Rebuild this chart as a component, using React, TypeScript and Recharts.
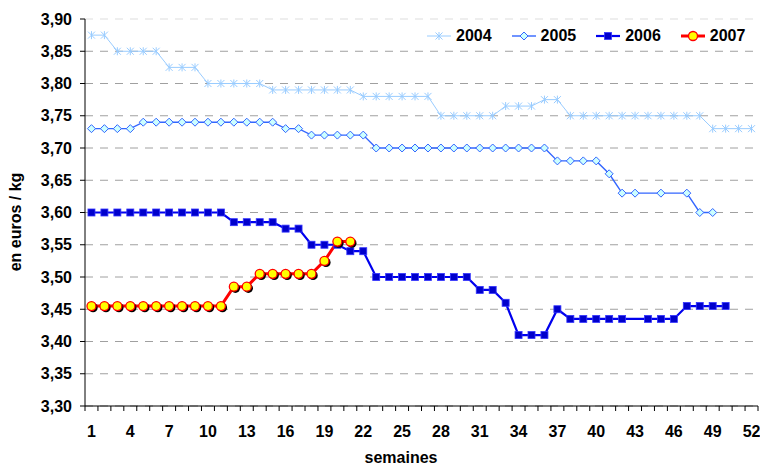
import { LineChart, Line, XAxis, YAxis, CartesianGrid, Legend, Label } from "recharts"

const weeks = [
  1, 2, 3, 4, 5, 6, 7, 8, 9, 10, 11, 12, 13, 14, 15, 16, 17, 18, 19, 20, 21, 22, 23, 24, 25, 26,
  27, 28, 29, 30, 31, 32, 33, 34, 35, 36, 37, 38, 39, 40, 41, 42, 43, 44, 45, 46, 47, 48, 49, 50, 51, 52,
]

const y2004 = [
  3.875, 3.875, 3.85, 3.85, 3.85, 3.85, 3.825, 3.825, 3.825, 3.8, 3.8, 3.8, 3.8, 3.8, 3.79, 3.79, 3.79,
  3.79, 3.79, 3.79, 3.79, 3.78, 3.78, 3.78, 3.78, 3.78, 3.78, 3.75, 3.75, 3.75, 3.75, 3.75, 3.765, 3.765,
  3.765, 3.775, 3.775, 3.75, 3.75, 3.75, 3.75, 3.75, 3.75, 3.75, 3.75, 3.75, 3.75, 3.75, 3.73, 3.73, 3.73, 3.73,
]

const y2005 = [
  3.73, 3.73, 3.73, 3.73, 3.74, 3.74, 3.74, 3.74, 3.74, 3.74, 3.74, 3.74, 3.74, 3.74, 3.74, 3.73, 3.73,
  3.72, 3.72, 3.72, 3.72, 3.72, 3.7, 3.7, 3.7, 3.7, 3.7, 3.7, 3.7, 3.7, 3.7, 3.7, 3.7, 3.7, 3.7, 3.7,
  3.68, 3.68, 3.68, 3.68, 3.66, 3.63, 3.63, null, 3.63, null, 3.63, 3.6, 3.6, null, null, null,
]

const y2006 = [
  3.6, 3.6, 3.6, 3.6, 3.6, 3.6, 3.6, 3.6, 3.6, 3.6, 3.6, 3.585, 3.585, 3.585, 3.585, 3.575, 3.575,
  3.55, 3.55, 3.55, 3.54, 3.54, 3.5, 3.5, 3.5, 3.5, 3.5, 3.5, 3.5, 3.5, 3.48, 3.48, 3.46, 3.41, 3.41,
  3.41, 3.45, 3.435, 3.435, 3.435, 3.435, 3.435, null, 3.435, 3.435, 3.435, 3.455, 3.455, 3.455, 3.455,
  null, null,
]

const y2007 = [
  3.455, 3.455, 3.455, 3.455, 3.455, 3.455, 3.455, 3.455, 3.455, 3.455, 3.455, 3.485, 3.485, 3.505,
  3.505, 3.505, 3.505, 3.505, 3.525, 3.555, 3.555,
]

const weekLabels = [1, 4, 7, 10, 13, 16, 19, 22, 25, 28, 31, 34, 37, 40, 43, 46, 49, 52]
const yTicks = [3.3, 3.35, 3.4, 3.45, 3.5, 3.55, 3.6, 3.65, 3.7, 3.75, 3.8, 3.85, 3.9]

const data = weeks.map((w, i) => ({
  week: w,
  y2004: y2004[i] ?? null,
  y2005: y2005[i] ?? null,
  y2006: y2006[i] ?? null,
  y2007: y2007[i] ?? null,
}))

// tick marks sit between weeks, labels sit on every third week
const boundaries = [0, ...weeks].map((w) => w + 0.5)
const allTicks = [...boundaries, ...weekLabels].sort((a, b) => a - b)

const font = "'Liberation Sans', Arial, sans-serif"
const fs = 16

function Star({ cx, cy, color }: any) {
  return (
    <g stroke={color} strokeWidth={1}>
      <line x1={cx - 3.5} y1={cy - 3.5} x2={cx + 3.5} y2={cy + 3.5} />
      <line x1={cx - 3.5} y1={cy + 3.5} x2={cx + 3.5} y2={cy - 3.5} />
      <line x1={cx} y1={cy - 4} x2={cx} y2={cy + 4} />
    </g>
  )
}

function Diamond({ cx, cy }: any) {
  return (
    <polygon
      points={`${cx},${cy - 4} ${cx + 4},${cy} ${cx},${cy + 4} ${cx - 4},${cy}`}
      fill="#CCFFFF"
      stroke="#3366FF"
      strokeWidth={1}
    />
  )
}

function Square({ cx, cy }: any) {
  return <rect x={cx - 3.5} y={cy - 3.5} width={7} height={7} fill="#0000CC" stroke="#3333FF" strokeWidth={0.8} />
}

function Ball({ cx, cy, shadow }: any) {
  return (
    <g>
      {shadow && <circle cx={cx + 1.6} cy={cy + 1.6} r={4.6} fill="#000" />}
      <circle cx={cx} cy={cy} r={4.5} fill="#FFFF00" stroke="#FF0000" strokeWidth={1.3} />
    </g>
  )
}

const dotFor = (Mark: any, extra: any) => (p: any) => {
  if (p.cy == null || p.value == null || p.payload?.[p.dataKey] == null) return <g key={`d-${p.index}`} />
  return (
    <g key={`d-${p.index}`}>
      <Mark cx={p.cx} cy={p.cy} {...extra} />
    </g>
  )
}

const series = [
  { key: "y2004", name: "2004", color: "#99CCFF", width: 1, mark: Star, extra: { color: "#99CCFF" } },
  { key: "y2005", name: "2005", color: "#3366FF", width: 1.4, mark: Diamond, extra: {} },
  { key: "y2006", name: "2006", color: "#0000EE", width: 2.2, mark: Square, extra: {} },
  { key: "y2007", name: "2007", color: "#FF0000", width: 3, mark: Ball, extra: { shadow: true } },
]

function WeekTick(props: any) {
  const { x, y, payload } = props
  const v = payload.value
  if (v % 1 !== 0) {
    const axisY = y - 20
    return <line x1={x} x2={x} y1={axisY} y2={axisY + 5} stroke="#000" />
  }
  return (
    <text x={x} y={y} dy="0.71em" textAnchor="middle" fontFamily={font} fontWeight="bold" fontSize={fs} fill="#000">
      {v}
    </text>
  )
}

function renderLegend() {
  return (
    <div style={{ display: "flex", alignItems: "center", fontFamily: font, fontWeight: "bold", fontSize: fs }}>
      {series.map((s) => {
        const Mark = s.mark
        return (
          <div key={s.key} style={{ display: "flex", alignItems: "center", marginRight: 20 }}>
            <svg width={24} height={12} style={{ marginRight: 5 }}>
              <line x1={0} y1={6} x2={24} y2={6} stroke={s.color} strokeWidth={s.width} />
              <Mark cx={12} cy={6} {...s.extra} shadow={false} />
            </svg>
            <span>{s.name}</span>
          </div>
        )
      })}
    </div>
  )
}

export default function App() {
  return (
    <div style={{ position: "absolute", left: 0, top: 0, background: "#fff" }}>
      <LineChart width={760} height={468} data={data} margin={{ top: 19, right: 2, bottom: 0, left: 0 }}>
        <CartesianGrid
          vertical={false}
          horizontal={(p: any) => (
            <line
              key={`h-${p.index}-${p.y1}`}
              x1={p.x1}
              y1={p.y1}
              x2={p.x2}
              y2={p.y2}
              stroke={p.y1 < 25 ? "#dddddd" : "#a0a0a0"}
              strokeDasharray="8 7"
            />
          )}
        />
        <XAxis
          dataKey="week"
          type="number"
          domain={[0.5, 52.5]}
          ticks={allTicks}
          interval={0}
          height={62}
          tickSize={5}
          tickMargin={15}
          tickLine={false}
          axisLine={{ stroke: "#000" }}
          tick={<WeekTick />}
        >
          <Label
            content={() => (
              <text x={401} y={463} textAnchor="middle" fontFamily={font} fontWeight="bold" fontSize={fs} fill="#000">
                semaines
              </text>
            )}
          />
        </XAxis>
        <YAxis
          type="number"
          domain={[3.3, 3.9]}
          ticks={yTicks}
          interval={0}
          width={85}
          tickSize={5}
          tickMargin={8}
          axisLine={{ stroke: "#000" }}
          tickLine={{ stroke: "#000" }}
          tick={{ fill: "#000", fontSize: fs, fontWeight: "bold", fontFamily: font }}
          tickFormatter={(v: number) => v.toFixed(2).replace(".", ",")}
        >
          <Label
            content={() => (
              <text
                transform="translate(21,222) rotate(-90)"
                textAnchor="middle"
                fontFamily={font}
                fontWeight="bold"
                fontSize={fs}
                fill="#000"
              >
                en euros / kg
              </text>
            )}
          />
        </YAxis>
        <Legend
          layout="vertical"
          align="center"
          verticalAlign="middle"
          content={renderLegend}
          wrapperStyle={{ left: 427, top: 27, width: 333, height: 20 }}
        />
        {series.map((s) => (
          <Line
            key={s.key}
            dataKey={s.key}
            name={s.name}
            type="linear"
            stroke={s.color}
            strokeWidth={s.width}
            dot={dotFor(s.mark, s.extra)}
            activeDot={false}
            connectNulls
            isAnimationActive={false}
          />
        ))}
      </LineChart>
    </div>
  )
}
